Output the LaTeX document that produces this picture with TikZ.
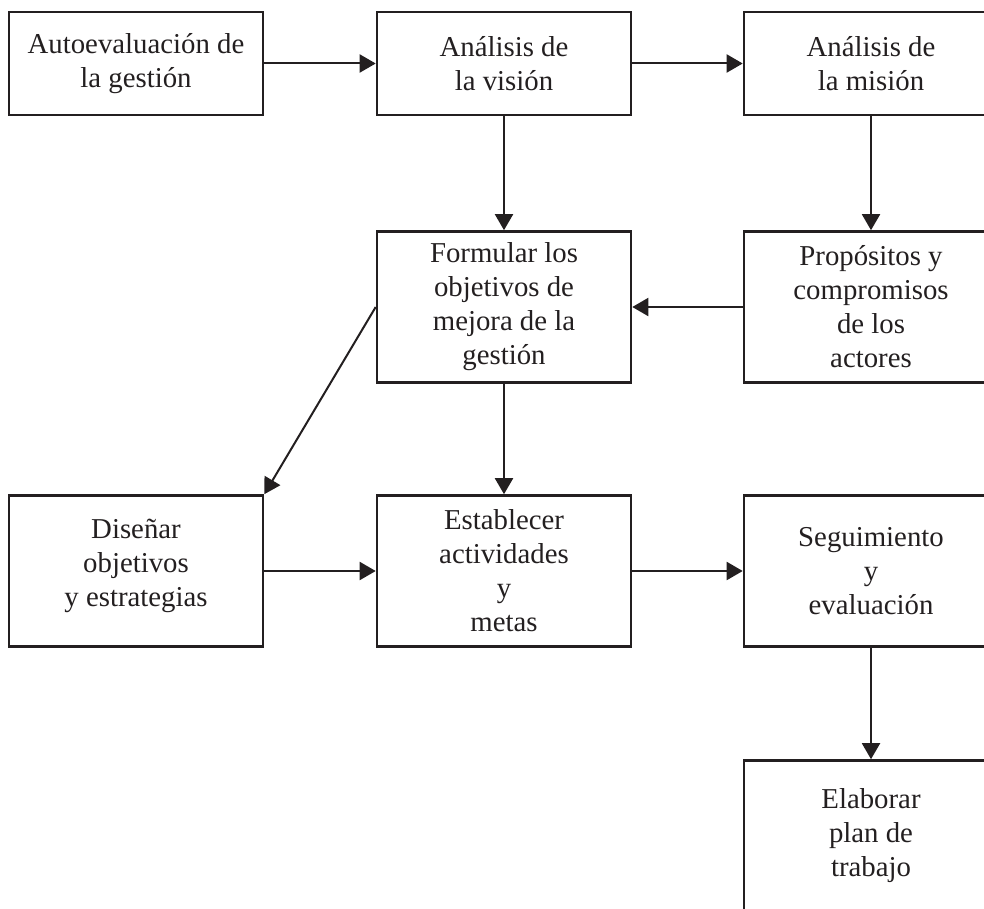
\documentclass[tikz,border=0pt]{standalone}
\usepackage{fontspec}
\setmainfont{Liberation Serif}
\usetikzlibrary{arrows.meta}
\definecolor{ink}{HTML}{231F20}
\tikzset{
  box/.style={draw=ink, line width=1.3pt, rectangle, align=center, text=ink,
    minimum width=127pt, inner sep=0pt, font=\fontsize{14.4}{17}\selectfont},
  lowbox/.style={box, minimum height=51.5pt},
  tallbox/.style={box, minimum height=75.5pt},
  arr/.style={draw=ink, line width=1pt, -{Triangle[length=8pt, width=9pt]}}
}
\begin{document}
\begin{tikzpicture}[x=0.5pt, y=-0.5pt]
        \clip (0,0) rectangle (984,909);
        \node[lowbox]  (autoeval)  at (136, 63.5) {Autoevaluación de\\la gestión};
        \node[lowbox]  (vision)    at (504, 63.5) {Análisis de\\la visión};
        \node[lowbox]  (mision)    at (871, 63.5) {Análisis de\\la misión};

        \node[tallbox] (formular)  at (504, 307) {Formular los\\objetivos de\\mejora de la\\gestión};
        \node[tallbox] (propositos) at (871, 307) {Propósitos y\\compromisos\\de los\\actores};

        \node[tallbox] (disenar)   at (136, 571) {Diseñar\\objetivos\\y estrategias\\[-9pt]};
        \node[tallbox] (establecer) at (504, 571) {Establecer\\actividades\\y\\metas};
        \node[tallbox] (seguim)    at (871, 571) {Seguimiento\\y\\evaluación};

        \node[tallbox] (elaborar)  at (871, 836) {Elaborar\\plan de\\trabajo};

        % connectors
        \draw[arr] (autoeval) -- (vision);
        \draw[arr] (vision) -- (mision);
        \draw[arr] (vision) -- (formular);
        \draw[arr] (mision) -- (propositos);
        \draw[arr] (propositos) -- (formular);
        \draw[arr] (formular.west) -- (disenar.north east);
        \draw[arr] (formular) -- (establecer);
        \draw[arr] (disenar) -- (establecer);
        \draw[arr] (establecer) -- (seguim);
        \draw[arr] (seguim) -- (elaborar);
      \end{tikzpicture}
\end{document}
